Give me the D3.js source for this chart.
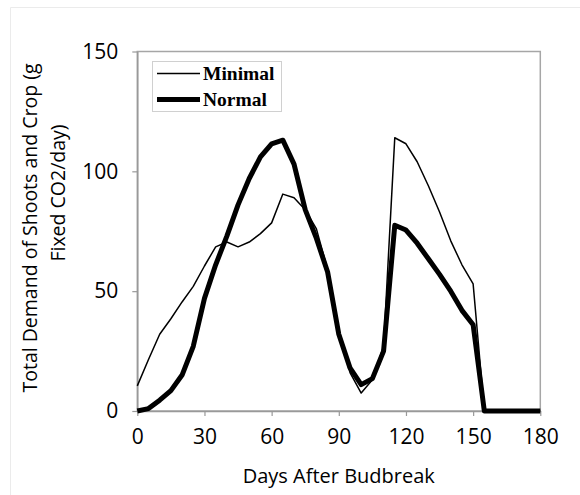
<!DOCTYPE html>
<html>
<head>
<meta charset="utf-8">
<script src="https://cdn.jsdelivr.net/npm/d3@7"></script>
<style>
  html, body { margin: 0; padding: 0; background: #fff; }
  svg { display: block; }
</style>
</head>
<body>
<svg id="chart" width="580" height="495"></svg>
<script>
// ---- data ----
const days = [0,5,10,15,20,25,30,35,40,45,50,55,60,65,70,75,80,85,90,95,100,105,110,115,120,125,130,135,140,145,150,155,160,165,170,175,180];
const minimal = [10.5,21.5,32,38.5,45.5,52,60.5,68.5,70.5,68.5,70.5,74,78.5,90.5,89,84,76,59,33,16,7.5,13,27,114,111.5,104,94,83,71,61,53,0,0,0,0,0,0];
const normal  = [0,1,4.5,8.5,15,27,47,61,73,86,97,106,111.5,113,103,84,72,58,32,18,11,13.5,25,77.5,75.5,70,63.5,57,50,42,36,0,0,0,0,0,0];
const xTicks = [0,30,60,90,120,150,180];
const yTicks = [0,50,100,150];
const seriesNames = ["Minimal","Normal"];
const xLabel = "Days After Budbreak";
const yLabelLines = ["Total Demand of Shoots and Crop (g", "Fixed CO2/day)"];

(function draw() {
  const svg = d3.select("#chart");
  const pL = 137.3, pR = 540.3, pT = 51.5, pB = 411;
  const x = d3.scaleLinear().domain([0,180]).range([pL, pR]);
  const y = d3.scaleLinear().domain([0,150]).range([pB, pT]);
  const font = "'Open Sans', sans-serif";

  // faint outer frame (top and left edges)
  svg.append("line").attr("x1",10.5).attr("x2",580).attr("y1",7.5).attr("y2",7.5)
    .attr("stroke","#ebebeb").attr("stroke-width",1);
  svg.append("line").attr("x1",10.5).attr("x2",10.5).attr("y1",7.5).attr("y2",495)
    .attr("stroke","#ebebeb").attr("stroke-width",1);

  // plot frame
  svg.append("rect").attr("x",pL).attr("y",pT).attr("width",pR-pL).attr("height",pB-pT)
    .attr("fill","none").attr("stroke","#a6a6a6").attr("stroke-width",1.5);

  // axes
  const xAxis = d3.axisBottom(x).tickValues(xTicks).tickSize(5).tickPadding(13).tickSizeOuter(0);
  const gx = svg.append("g").attr("transform",`translate(0,${pB})`).call(xAxis);
  gx.select(".domain").attr("stroke","#999").attr("stroke-width",1.5);
  gx.selectAll(".tick line").attr("stroke","#999").attr("stroke-width",1.2);
  gx.selectAll(".tick text").attr("font-family",font).attr("font-size",21).attr("fill","#000");

  const yAxis = d3.axisLeft(y).tickValues(yTicks).tickSize(5).tickPadding(14).tickSizeOuter(0);
  const gy = svg.append("g").attr("transform",`translate(${pL},0)`).call(yAxis);
  gy.select(".domain").attr("stroke","#999").attr("stroke-width",1.5);
  gy.selectAll(".tick line").attr("stroke","#999").attr("stroke-width",1.2);
  gy.selectAll(".tick text").attr("font-family",font).attr("font-size",21).attr("fill","#000");

  // axis titles
  svg.append("text").attr("x",(pL+pR)/2).attr("y",483)
    .attr("text-anchor","middle").attr("font-family",font).attr("font-size",20).attr("fill","#000")
    .text(xLabel);
  const yCenters = [228, 193];
  const yBase = [36.5, 65];
  yLabelLines.forEach((t,i) => {
    svg.append("text")
      .attr("transform",`translate(${yBase[i]},${yCenters[i]}) rotate(-90)`)
      .attr("text-anchor","middle").attr("font-family",font).attr("font-size",19.5).attr("fill","#000")
      .text(t);
  });

  // lines
  const line = d3.line().x((d,i) => x(days[i])).y(d => y(d));
  svg.append("path").datum(normal).attr("d",line)
    .attr("fill","none").attr("stroke","#000").attr("stroke-width",5).attr("stroke-linejoin","round");
  svg.append("path").datum(minimal).attr("d",line)
    .attr("fill","none").attr("stroke","#000").attr("stroke-width",1.5).attr("stroke-linejoin","round");

  // legend
  const lg = svg.append("g");
  lg.append("rect").attr("x",152.5).attr("y",61.5).attr("width",129).attr("height",50)
    .attr("fill","#fff").attr("stroke","#d0d0d0").attr("stroke-width",1);
  const widths = [1.5, 5];
  const ly = [73.5, 99.5];
  seriesNames.forEach((n,i) => {
    lg.append("line").attr("x1",157).attr("x2",200).attr("y1",ly[i]).attr("y2",ly[i])
      .attr("stroke","#000").attr("stroke-width",widths[i]);
    lg.append("text").attr("x",203).attr("y",ly[i]+6.5)
      .attr("font-family","'Liberation Serif', 'Times New Roman', serif").attr("font-weight","bold")
      .attr("font-size",19.5).attr("fill","#000").text(n);
  });
})();
</script>
</body>
</html>
